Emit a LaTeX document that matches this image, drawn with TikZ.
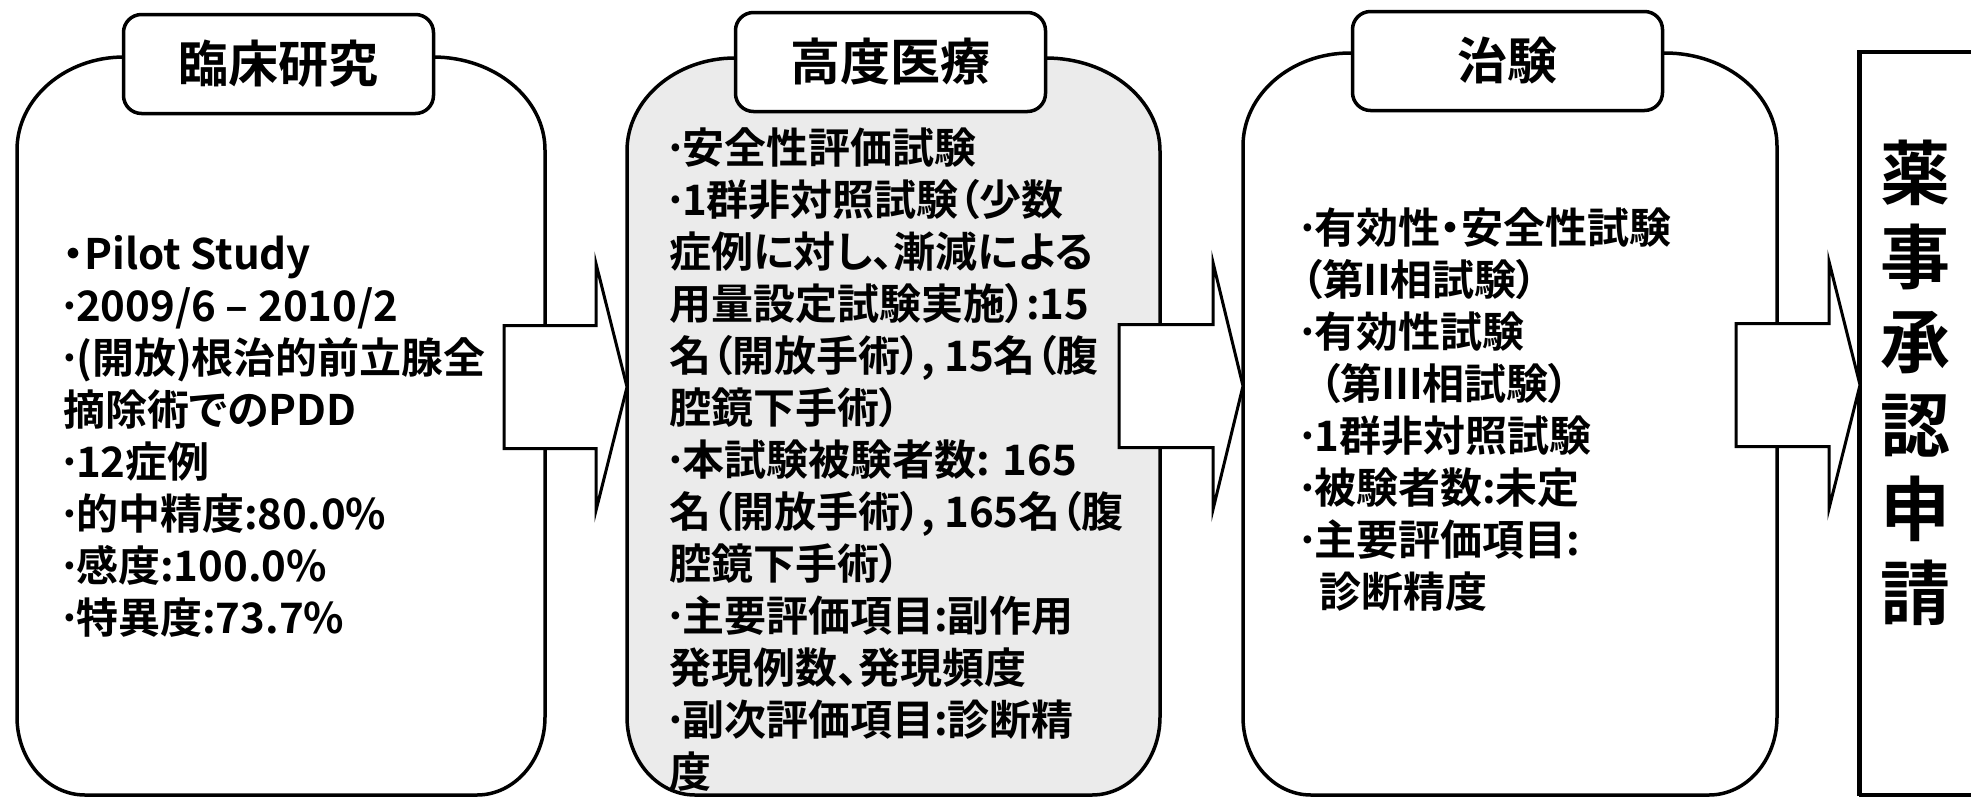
\documentclass[tikz,border=0pt]{standalone}
\usepackage{fontspec}
\newfontfamily\jp[RawFeature=+palt]{Noto Sans CJK JP Bold}
\definecolor{boxgray}{gray}{0.92}
\newcommand\bdot{\makebox[13pt][c]{·}}
\newcommand\romtwo{\makebox[26pt][c]{Ⅱ}}
\newcommand\romthree{\makebox[40pt][c]{Ⅲ}}
\tikzset{
  stagebox/.style={draw=black, line width=3.5pt, fill=white},
  graybox/.style={draw=black, line width=3.5pt, fill=boxgray},
  tabbox/.style={draw=black, line width=3.5pt, fill=white, rounded corners=18pt,
    minimum width=310pt, minimum height=99pt, inner sep=0pt,
    font=\jp\fontsize{50}{60}\selectfont},
  blockarr/.style={draw=black, line width=3pt, fill=white, line join=miter},
  bodytext/.style={anchor=north west, inner sep=0pt, align=left,
    font=\jp\fontsize{42}{52}\selectfont},
}
% xL xR xTL xTR ytop style
\newcommand\stageshape[6]{%
  \path[#6] (#3,#5) .. controls ({#3-0.552*(#3-#1)},#5) and (#1,{#5+0.448*93}) .. (#1,{#5+93})
   -- (#1,717) .. controls (#1,{717+0.552*78}) and ({#1+0.448*68},795) .. ({#1+68},795)
   -- ({#2-68},795) .. controls ({#2-0.448*68},795) and (#2,{717+0.552*78}) .. (#2,717)
   -- (#2,{#5+93}) .. controls (#2,{#5+0.448*93}) and ({#4+0.552*(#2-#4)},#5) .. (#4,#5) -- cycle;}
% name x0 xb xt yc
\newcommand\blockarrow[5]{%
  \coordinate (#1tail) at (#2,#5);
  \coordinate (#1tip) at (#4,#5);
  \path[blockarr] (#2,{#5-61.5}) -- (#3,{#5-61.5}) -- (#3,{#5-123.5}) -- (#1tip)
    -- (#3,{#5+123.5}) -- (#3,{#5+61.5}) -- (#2,{#5+61.5}) -- cycle;}
\begin{document}
\begin{tikzpicture}[x=1pt,y=-1pt]
\useasboundingbox (0,0) rectangle (1971,798);
\fill[white] (0,0) rectangle (1971,798);

% stage boxes
\stageshape{17}{545}{124}{433}{57}{stagebox}
\stageshape{627}{1160}{735}{1046}{58}{graybox}
\stageshape{1243}{1777}{1350}{1665}{53}{stagebox}

% final box
\draw[line width=3.5pt] (1980,52) -- (1859,52);
\draw[line width=5pt] (1859,50) -- (1859,796);
\draw[line width=3.5pt] (1859,795) -- (1980,795);

% tabs
\node[tabbox] (t1) at (278.5,64) {臨床研究};
\node[tabbox] (t2) at (890.5,62) {高度医療};
\node[tabbox] (t3) at (1507.5,61) {治験};

% arrows
\blockarrow{a1}{504}{596}{627}{387}
\blockarrow{a2}{1119}{1213}{1243}{386}
\blockarrow{a3}{1736}{1829}{1860}{385}

% body texts
\node[bodytext] (b1) at (63,229) {\rule{0pt}{40pt}・Pilot Study\\
\bdot 2009/6 – 2010/2\\
\bdot(開放)根治的前立腺全\\
摘除術でのPDD\\
\bdot 12症例\\
\bdot 的中精度:80.0\%\\
\bdot 感度:100.0\%\\
\bdot 特異度:73.7\%};

\node[bodytext] (b2) at (669,123) {\rule{0pt}{40pt}\bdot 安全性評価試験\\
\bdot 1群非対照試験（少数\\
症例に対し、漸減による\\
用量設定試験実施）:15\\
名（開放手術）, 15名（腹\\
腔鏡下手術）\\
\bdot 本試験被験者数: 165\\
名（開放手術）, 165名（腹\\
腔鏡下手術）\\
\bdot 主要評価項目:副作用\\
発現例数、発現頻度\\
\bdot 副次評価項目:診断精\\
度};

\node[bodytext] (b3) at (1301,203) {\rule{0pt}{40pt}\bdot 有効性・安全性試験\\
（第\romtwo 相試験）\\
\bdot 有効性試験\\
\hspace*{18pt}（第\romthree 相試験）\\
\bdot 1群非対照試験\\
\bdot 被験者数:未定\\
\bdot 主要評価項目:\\
\hspace*{18pt}診断精度};

\node[inner sep=0pt, align=center, font=\jp\fontsize{70}{84}\selectfont] (fin) at (1915,383)
  {薬\\事\\承\\認\\申\\請};
\end{tikzpicture}
\end{document}
